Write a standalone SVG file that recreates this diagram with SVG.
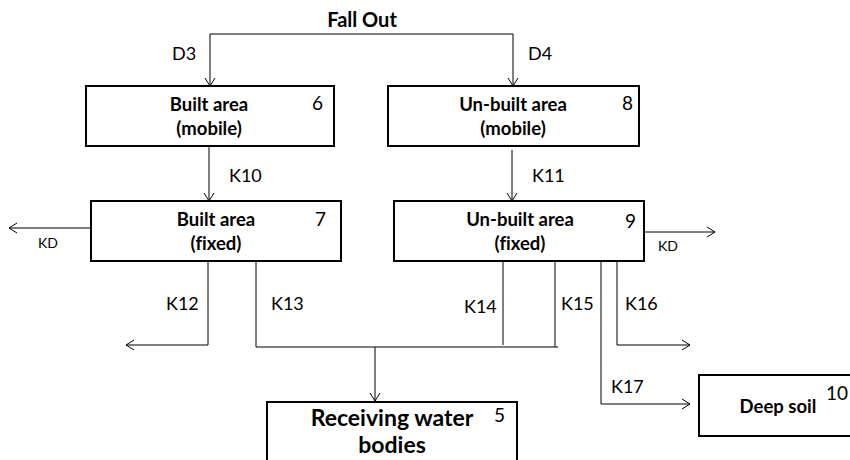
<svg xmlns="http://www.w3.org/2000/svg" width="850" height="460" viewBox="0 0 850 460">
<style>
.box{fill:#fff;stroke:#000;stroke-width:2}
.ln{fill:none;stroke:#000;stroke-width:1}
.arr{marker-end:url(#ah)}
.t{font-family:Lato,"Liberation Sans",sans-serif;fill:#000;font-variant-ligatures:none}
.b{font-weight:bold;font-size:18.5px;text-anchor:middle}
.n{font-size:19px}
.k{font-size:18px}
.kd{font-size:14px}
</style>
<defs>
<marker id="ah" markerWidth="12" markerHeight="12" refX="10" refY="6" orient="auto" markerUnits="userSpaceOnUse">
<path d="M2,1 L10,6 L2,11" fill="none" stroke="#000" stroke-width="1"/>
</marker>
</defs>
<g id="connectors">
<path class="ln" d="M210,34 H513"/>
<path class="ln arr" d="M210,34 V86"/>
<path class="ln arr" d="M513,34 V86"/>
<path class="ln arr" d="M209,146 V201"/>
<path class="ln arr" d="M512,150 V201"/>
<path class="ln arr" d="M91,228 H9"/>
<path class="ln arr" d="M643,232 H715"/>
<path class="ln arr" d="M208,261 V345 H126"/>
<path class="ln" d="M256,261 V347"/>
<path class="ln" d="M256,347 H558"/>
<path class="ln" d="M503,261 V345"/>
<path class="ln" d="M555,261 V347"/>
<path class="ln arr" d="M375,347 V401"/>
<path class="ln arr" d="M601,261 V404 H690"/>
<path class="ln arr" d="M617,261 V345 H690"/>
</g>
<g id="labels">
<text class="t" x="362" y="27" font-size="20" font-weight="bold" text-anchor="middle">Fall Out</text>
<text class="t k" x="172" y="60">D3</text>
<text class="t k" x="528" y="60">D4</text>
<text class="t k" x="229" y="182">K10</text>
<text class="t k" x="532" y="182">K11</text>
<text class="t kd" x="38" y="248">KD</text>
<text class="t kd" x="658" y="251">KD</text>
<text class="t k" x="166" y="310">K12</text>
<text class="t k" x="271" y="310">K13</text>
<text class="t k" x="464" y="313">K14</text>
<text class="t k" x="561" y="310">K15</text>
<text class="t k" x="625" y="310">K16</text>
<text class="t k" x="611" y="393">K17</text>
</g>
<g id="node6">
<rect class="box" x="86" y="86" width="248" height="60"/>
<text class="t b" x="209" y="111">Built area</text>
<text class="t b" x="209" y="135">(mobile)</text>
<text class="t n" x="312" y="110">6</text>
</g>
<g id="node8">
<rect class="box" x="388" y="86" width="251" height="60"/>
<text class="t b" x="513" y="111">Un-built area</text>
<text class="t b" x="513" y="135">(mobile)</text>
<text class="t n" x="622" y="110">8</text>
</g>
<g id="node7">
<rect class="box" x="91" y="201" width="250" height="60"/>
<text class="t b" x="216" y="226">Built area</text>
<text class="t b" x="216" y="250">(fixed)</text>
<text class="t n" x="315" y="226">7</text>
</g>
<g id="node9">
<rect class="box" x="394" y="201" width="250" height="60"/>
<text class="t b" x="520" y="226">Un-built area</text>
<text class="t b" x="520" y="250">(fixed)</text>
<text class="t n" x="625" y="228">9</text>
</g>
<g id="node5">
<rect class="box" x="267" y="402" width="250" height="70"/>
<text class="t" x="392" y="426" font-size="23" font-weight="bold" text-anchor="middle">Receiving water</text>
<text class="t" x="392" y="453" font-size="23" font-weight="bold" text-anchor="middle">bodies</text>
<text class="t n" x="494" y="422">5</text>
</g>
<g id="node10">
<rect class="box" x="699" y="375" width="160" height="61"/>
<text class="t" x="778" y="413" font-size="18.5" font-weight="bold" text-anchor="middle">Deep soil</text>
<text class="t n" x="826" y="400">10</text>
</g>
</svg>
